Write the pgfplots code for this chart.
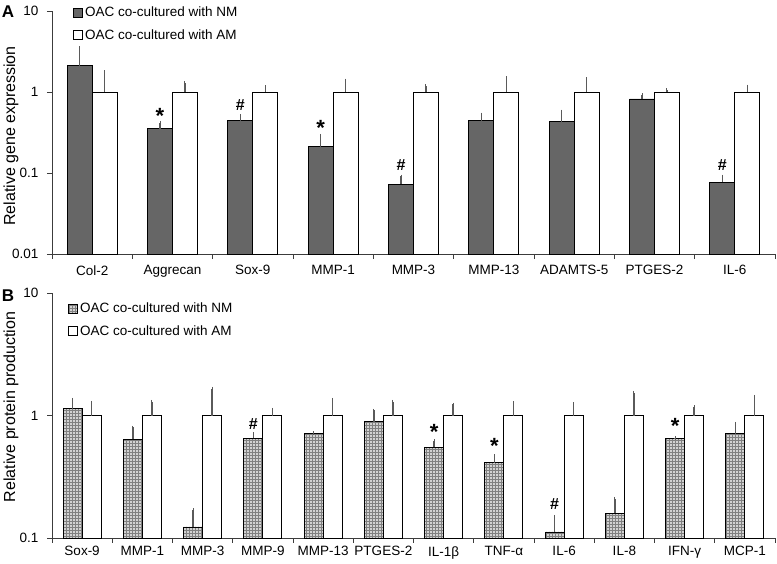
\documentclass[border=0pt]{standalone}
\usepackage{pgfplots}
\pgfplotsset{compat=1.18}
\usepackage{pgfplotstable}
\usepackage{fontspec}
\setmainfont{Liberation Sans}
\usetikzlibrary{patterns}
\definecolor{nmgray}{HTML}{666666}
\definecolor{errgray}{HTML}{5A5A5A}
\definecolor{axgray}{HTML}{3C3C3C}
\definecolor{hatchfill}{HTML}{D2D2D2}
\pgfplotstableread{
x nm nmerr am amerr
0 2.1 1.4 1 0.77
1 0.35 0.07 1 0.29
2 0.44 0.07 1 0.15
3 0.21 0.08 1 0.40
4 0.073 0.018 1 0.19
5 0.44 0.09 1 0.49
6 0.43 0.15 1 0.45
7 0.82 0.10 1 0.06
8 0.077 0.014 1 0.18
}\dataA
\pgfplotstableread{
x nm nmerr am amerr
0 1.14 0.21 1 0.28
1 0.64 0.16 1 0.30
2 0.123 0.047 1 0.66
3 0.65 0.06 1 0.12
4 0.71 0.01 1 0.35
5 0.89 0.21 1 0.30
6 0.55 0.07 1 0.23
7 0.41 0.06 1 0.27
8 0.112 0.038 1 0.25
9 0.16 0.05 1 0.54
10 0.65 0.005 1 0.18
11 0.71 0.15 1 0.43
}\dataB
\begin{document}
\begin{tikzpicture}
\path[use as bounding box] (0pt,0pt) rectangle (777pt,-563pt);
% Panel A
\begin{axis}[
  scale only axis, ymode=log, log origin=infty, ybar=0pt,
  axis x line*=bottom, axis y line*=left,
  axis line style={axgray, line width=0.9pt},
  tick style={axgray, line width=0.9pt},
  tick align=outside, major tick length=5pt,
  yminorticks=false,
  x tick label as interval,
  ticklabel style={font=\fontsize{13.5}{16}\selectfont},
  yticklabel style={xshift=-5pt},
  legend style={draw=none, fill=none, font=\fontsize{13.5}{16}\selectfont, row sep=7pt, inner sep=0pt, cells={anchor=west}},
  legend image code/.code={\draw[#1] (0pt,-4.5pt) rectangle (9pt,4.5pt);},
  at={(52pt,-254pt)}, anchor=south west,
  width=723pt, height=243pt, xmin=-0.5, xmax=8.5, ymin=0.01, ymax=10,
  bar width=0.311,
  ytick={0.01,0.1,1,10}, yticklabels={0.01,0.1,1,10},
  xtick={-0.5,0.5,...,8.5},
  xticklabels={Col-2,Aggrecan,Sox-9,MMP-1,MMP-3,MMP-13,ADAMTS-5,PTGES-2,IL-6},
  xticklabel style={yshift=-3pt},
  legend style={at={(axis description cs:0.029,1)}, anchor=north west, yshift=6pt},
]
\addplot[fill=nmgray, draw=black, line width=0.9pt,
  error bars/.cd, y dir=plus, y explicit,
  error bar style={errgray, line width=1.5pt},
  error mark options={errgray, line width=1pt, mark size=1.6pt}]
  table[x=x, y=nm, y error=nmerr]{\dataA};
\addplot[fill=white, draw=black, line width=0.9pt,
  error bars/.cd, y dir=plus, y explicit,
  error bar style={errgray, line width=1.5pt},
  error mark options={errgray, line width=1pt, mark size=1.6pt}]
  table[x=x, y=am, y error=amerr]{\dataA};
\legend{OAC co-cultured with NM, OAC co-cultured with AM}
\node[anchor=north, inner sep=0pt, font=\fontsize{22}{22}\selectfont\bfseries] at (axis cs:0.844,0.63) {*};
\node[anchor=north, inner sep=0pt, font=\fontsize{16}{16}\selectfont\bfseries] at (axis cs:1.844,0.82) {\#};
\node[anchor=north, inner sep=0pt, font=\fontsize{22}{22}\selectfont\bfseries] at (axis cs:2.844,0.45) {*};
\node[anchor=north, inner sep=0pt, font=\fontsize{16}{16}\selectfont\bfseries] at (axis cs:3.844,0.149) {\#};
\node[anchor=north, inner sep=0pt, font=\fontsize{16}{16}\selectfont\bfseries] at (axis cs:7.844,0.149) {\#};
\end{axis}
% Panel B
\begin{axis}[
  scale only axis, ymode=log, log origin=infty, ybar=0pt,
  axis x line*=bottom, axis y line*=left,
  axis line style={axgray, line width=0.9pt},
  tick style={axgray, line width=0.9pt},
  tick align=outside, major tick length=5pt,
  yminorticks=false,
  x tick label as interval,
  ticklabel style={font=\fontsize{13.5}{16}\selectfont},
  yticklabel style={xshift=-5pt},
  legend style={draw=none, fill=none, font=\fontsize{13.5}{16}\selectfont, row sep=7pt, inner sep=0pt, cells={anchor=west}},
  legend image code/.code={\draw[#1] (0pt,-4.5pt) rectangle (9pt,4.5pt);},
  at={(52pt,-538pt)}, anchor=south west,
  width=723pt, height=245pt, xmin=-0.5, xmax=11.5, ymin=0.1, ymax=10,
  bar width=0.315,
  ytick={0.1,1,10}, yticklabels={0.1,1,10},
  xtick={-0.5,0.5,...,11.5},
  xticklabels={Sox-9,MMP-1,MMP-3,MMP-9,MMP-13,PTGES-2,IL-1β,TNF-α,IL-6,IL-8,IFN-γ,MCP-1},
  legend style={at={(axis description cs:0.022,1)}, anchor=north west, yshift=-8pt},
]
\addplot[fill=hatchfill, draw=black, line width=0.9pt, postaction={pattern=grid, pattern color=gray},
  error bars/.cd, y dir=plus, y explicit,
  error bar style={errgray, line width=1.5pt},
  error mark options={errgray, line width=1pt, mark size=1.6pt}]
  table[x=x, y=nm, y error=nmerr]{\dataB};
\addplot[fill=white, draw=black, line width=0.9pt,
  error bars/.cd, y dir=plus, y explicit,
  error bar style={errgray, line width=1.5pt},
  error mark options={errgray, line width=1pt, mark size=1.6pt}]
  table[x=x, y=am, y error=amerr]{\dataB};
\legend{OAC co-cultured with NM, OAC co-cultured with AM}
\node[anchor=north, inner sep=0pt, font=\fontsize{16}{16}\selectfont\bfseries] at (axis cs:2.843,0.945) {\#};
\node[anchor=north, inner sep=0pt, font=\fontsize{22}{22}\selectfont\bfseries] at (axis cs:5.843,0.845) {*};
\node[anchor=north, inner sep=0pt, font=\fontsize{22}{22}\selectfont\bfseries] at (axis cs:6.843,0.65) {*};
\node[anchor=north, inner sep=0pt, font=\fontsize{16}{16}\selectfont\bfseries] at (axis cs:7.843,0.211) {\#};
\node[anchor=north, inner sep=0pt, font=\fontsize{22}{22}\selectfont\bfseries] at (axis cs:9.843,0.945) {*};
\end{axis}
\node[rotate=90, font=\fontsize{16}{19}\selectfont] at (11pt,-136pt) {Relative gene expression};
\node[rotate=90, font=\fontsize{16}{19}\selectfont] at (11pt,-407pt) {Relative protein production};
\node[font=\fontsize{17}{17}\selectfont\bfseries] at (8pt,-11.5pt) {A};
\node[font=\fontsize{17}{17}\selectfont\bfseries] at (8pt,-295.5pt) {B};
\end{tikzpicture}
\end{document}
